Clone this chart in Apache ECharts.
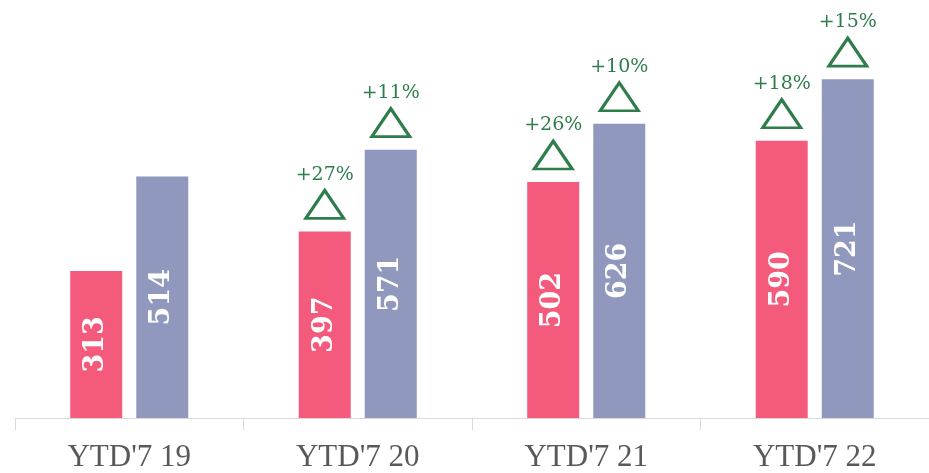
<!DOCTYPE html>
<html>
<head>
<meta charset="utf-8">
<script src="https://cdn.jsdelivr.net/npm/echarts@6/dist/echarts.min.js"></script>
<style>
  html, body { margin: 0; padding: 0; background: #fff; }
  #chart { width: 929px; height: 473px; }
</style>
</head>
<body>
<div id="chart"></div>
<script>
const categories = ["YTD'7 19", "YTD'7 20", "YTD'7 21", "YTD'7 22"];
const pinkValues = [313, 397, 502, 590];
const blueValues = [514, 571, 626, 721];
const pinkGrowth = [null, "+27%", "+26%", "+18%"];
const blueGrowth = [null, "+11%", "+10%", "+15%"];

const pink = "#F45A7C";
const blue = "#9098BD";
const green = "#2E7D4B";

function growthMarks(values, growth) {
  let out = [];
  growth.forEach((g, i) => {
    if (g) out.push({ coord: [i, values[i]], value: g });
  });
  return out;
}

function markPoint(values, growth) {
  return {
    symbol: "triangle",
    symbolSize: [38, 28],
    symbolOffset: [0, -27],
    silent: true,
    itemStyle: {
      color: "#fff",
      borderColor: green,
      borderWidth: 3
    },
    label: {
      show: true,
      position: "top",
      distance: 5,
      formatter: p => p.value,
      color: green,
      fontFamily: "DejaVu Serif",
      fontSize: 19
    },
    data: growthMarks(values, growth)
  };
}

const valueLabel = {
  show: true,
  position: "inside",
  rotate: 90,
  color: "#fff",
  fontFamily: "DejaVu Serif",
  fontWeight: "bold",
  fontSize: 27
};

let myChart = echarts.init(document.getElementById("chart"));
let option = {
  animation: false,
  grid: {
    left: 15,
    right: 0,
    top: 42,
    bottom: 53
  },
  xAxis: {
    type: "category",
    data: categories,
    axisLine: {
      lineStyle: { color: "#D9D9D9", width: 1 }
    },
    axisTick: {
      show: true,
      length: 12,
      lineStyle: { color: "#D9D9D9" }
    },
    axisLabel: {
      color: "#595959",
      fontFamily: "Liberation Serif",
      fontSize: 31,
      margin: 24
    }
  },
  yAxis: {
    type: "value",
    min: 0,
    max: 800,
    show: false,
    splitLine: { show: false }
  },
  series: [
    {
      type: "bar",
      data: pinkValues,
      barWidth: 52,
      barGap: "27%",
      itemStyle: { color: pink },
      label: valueLabel,
      markPoint: markPoint(pinkValues, pinkGrowth)
    },
    {
      type: "bar",
      data: blueValues,
      barWidth: 52,
      barGap: "27%",
      itemStyle: { color: blue },
      label: valueLabel,
      markPoint: markPoint(blueValues, blueGrowth)
    }
  ]
};
myChart.setOption(option);
</script>
</body>
</html>
